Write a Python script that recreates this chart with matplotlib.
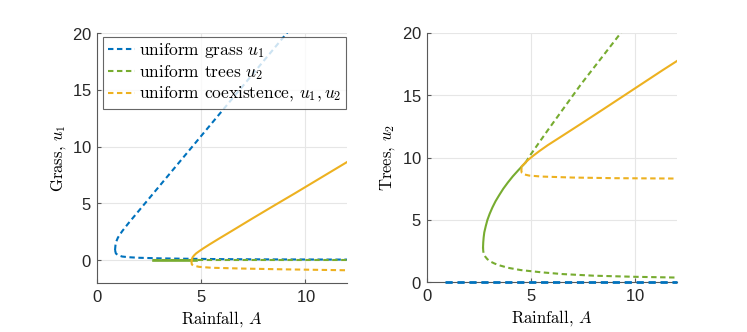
import matplotlib
matplotlib.use("Agg")
import matplotlib.pyplot as plt

# ---------- data ----------
# uniform grass states (u2 = 0)
grass_up_A = [0.86, 0.88, 0.92, 1.0, 1.2, 1.5, 2.0, 2.5, 3.0, 3.5, 4.5, 6.0, 7.5, 9.2]
grass_up_u1 = [0.9, 1.3, 1.65, 2.0, 2.55, 3.25, 4.35, 5.45, 6.55, 7.65, 9.85, 13.15, 16.45, 20.2]
grass_lo_A = [0.86, 0.9, 1.0, 1.2, 1.5, 2.0, 3.0, 4.0, 6.0, 8.0, 10.0, 12.0]
grass_lo_u1 = [0.9, 0.6, 0.45, 0.33, 0.27, 0.22, 0.17, 0.14, 0.1, 0.08, 0.07, 0.06]

# uniform tree states (u1 = 0)
tree_stab_A = [2.69, 2.70, 2.72, 2.75, 2.82, 2.90, 3.01, 3.14, 3.29, 3.47, 3.66, 3.88, 4.12, 4.39, 4.73]
tree_stab_u2 = [2.8, 3.2, 3.6, 4.0, 4.5, 5.0, 5.5, 6.0, 6.5, 7.0, 7.5, 8.0, 8.5, 9.0, 9.6]
tree_up_A = [4.73, 5.0, 5.8, 7.4, 9.35, 12.0]
tree_up_u2 = [9.6, 10.3, 12.2, 15.9, 20.1, 25.9]
tree_lo_A = [2.69, 2.70, 2.73, 2.8, 2.9, 3.05, 3.25, 3.5, 3.9, 4.5, 5.5, 6.5, 8.0, 10.0, 12.0]
tree_lo_u2 = [2.8, 2.5, 2.25, 2.05, 1.85, 1.66, 1.5, 1.35, 1.16, 0.98, 0.8, 0.66, 0.53, 0.44, 0.38]

# uniform coexistence states
coex_stab_A = [4.54, 4.55, 4.58, 4.65, 4.75, 4.9, 5.1, 5.4, 5.8, 6.5, 7.4, 8.5, 9.5, 10.5, 11.3, 12.0]
coex_stab_u1 = [0.0, 0.1, 0.25, 0.42, 0.6, 0.8, 1.05, 1.4, 1.85, 2.62, 3.62, 4.82, 5.9, 7.0, 7.88, 8.65]
coex_stab_u2 = [9.28, 9.3, 9.36, 9.47, 9.65, 9.88, 10.15, 10.53, 11.0, 11.75, 12.72, 13.92,
                15.02, 16.12, 17.0, 17.75]
coex_uns_A = [4.54, 4.53, 4.55, 4.65, 4.9, 5.5, 7.0, 9.0, 12.0]
coex_uns_u1 = [-0.02, -0.2, -0.38, -0.48, -0.58, -0.66, -0.73, -0.8, -0.88]
coex_uns_u2 = [9.2, 8.95, 8.78, 8.66, 8.56, 8.48, 8.4, 8.35, 8.32]

x_ticks = [0, 5, 10]
y_ticks = [0, 5, 10, 15, 20]

BLUE = "#0072BD"
GREEN = "#77AC30"
YELLOW = "#EDB120"
DASH = (0, (2.6, 1.7))
LW = 1.5
SERIF = ["cmr10", "DejaVu Serif"]

plt.rcParams["font.family"] = ["Liberation Sans", "DejaVu Sans"]
plt.rcParams["mathtext.fontset"] = "cm"
plt.rcParams["axes.formatter.use_mathtext"] = True

fig = plt.figure(figsize=(7.47, 3.32), dpi=100)
ax1 = fig.add_axes([0.130, 0.1476, 0.3347, 0.753])
ax2 = fig.add_axes([0.5716, 0.1497, 0.3347, 0.7512])

zeros = lambda xs: [0.0] * len(xs)

# ---------- left: grass ----------
ax1.plot(grass_up_A, grass_up_u1, color=BLUE, ls=DASH, lw=LW, label=r"uniform grass $u_1$")
ax1.plot(grass_lo_A, grass_lo_u1, color=BLUE, ls=DASH, lw=LW)
ax1.plot(tree_stab_A, zeros(tree_stab_A), color=GREEN, lw=LW + 0.4)
ax1.plot(tree_lo_A, zeros(tree_lo_A), color=GREEN, ls=DASH, lw=LW, label=r"uniform trees $u_2$")
ax1.plot(coex_stab_A, coex_stab_u1, color=YELLOW, lw=LW)
ax1.plot(coex_uns_A, coex_uns_u1, color=YELLOW, ls=DASH, lw=LW,
         label=r"uniform coexistence, $u_1, u_2$")
ax1.set_ylim(-2, 20)
ax1.set_ylabel(r"Grass, $u_1$", fontsize=12, family=SERIF, labelpad=3)

leg = ax1.legend(loc="upper left", bbox_to_anchor=(0.025, 0.985), frameon=True,
                 prop={"family": SERIF, "size": 12.5},
                 fancybox=False, borderpad=0.25, labelspacing=0.18, handlelength=1.6,
                 handletextpad=0.2, borderaxespad=0.0)
leg.get_frame().set_edgecolor("0.25")
leg.get_frame().set_linewidth(0.8)

# ---------- right: trees ----------
ax2.plot(grass_lo_A, zeros(grass_lo_A), color=BLUE, ls=DASH, lw=LW + 0.5, zorder=3, clip_on=False)
ax2.plot(tree_stab_A, tree_stab_u2, color=GREEN, lw=LW)
ax2.plot(tree_up_A, tree_up_u2, color=GREEN, ls=DASH, lw=LW)
ax2.plot(tree_lo_A, tree_lo_u2, color=GREEN, ls=DASH, lw=LW)
ax2.plot(coex_stab_A, coex_stab_u2, color=YELLOW, lw=LW)
ax2.plot(coex_uns_A, coex_uns_u2, color=YELLOW, ls=DASH, lw=LW)
ax2.set_ylim(0, 20)
ax2.set_ylabel(r"Trees, $u_2$", fontsize=12, family=SERIF, labelpad=3)

for ax in (ax1, ax2):
    ax.set_xlim(0, 12)
    ax.set_xticks(x_ticks)
    ax.set_yticks(y_ticks)
    ax.set_xlabel(r"Rainfall, $A$", fontsize=12, family=SERIF, labelpad=3)
    ax.grid(True, color="#e6e6e6", lw=0.8)
    ax.set_axisbelow(True)
    for s in ("top", "right"):
        ax.spines[s].set_visible(False)
    for s in ("left", "bottom"):
        ax.spines[s].set_color("0.35")
        ax.spines[s].set_linewidth(0.8)
    ax.tick_params(direction="in", length=3, width=0.8, color="0.35", labelsize=12,
                   labelcolor="#262626", pad=4)

fig.savefig("out.png", dpi=100, facecolor="white")
